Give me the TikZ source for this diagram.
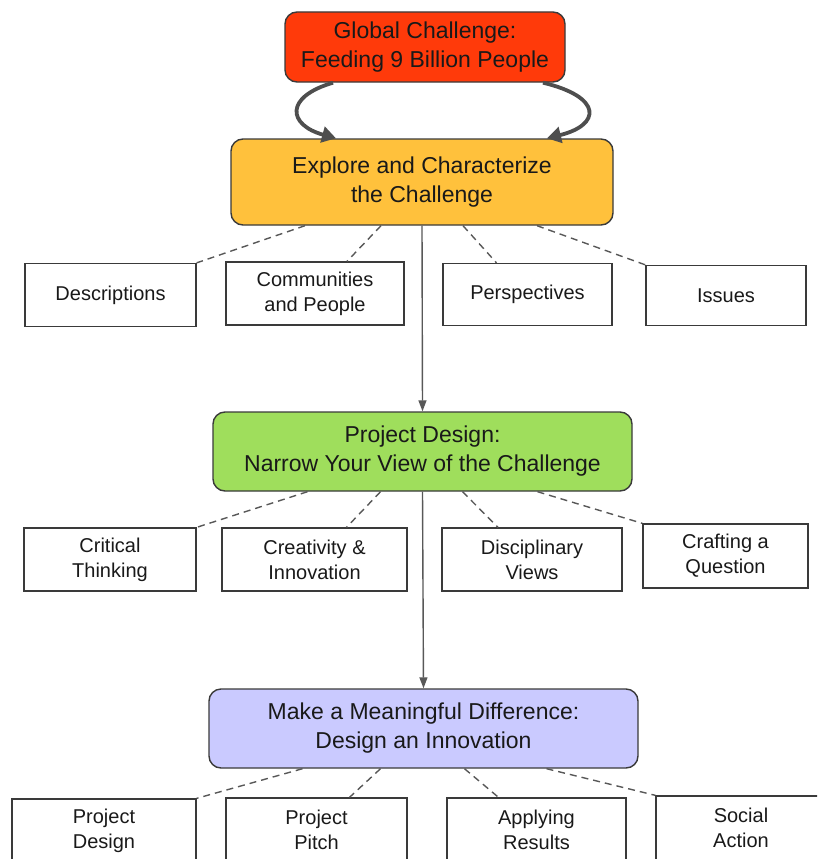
\documentclass[tikz,border=0pt]{standalone}
\usepackage{fontspec}
\setmainfont{Liberation Sans}
\usetikzlibrary{arrows.meta}
\definecolor{redc}{HTML}{FF3A0A}
\definecolor{orangec}{HTML}{FFC13C}
\definecolor{greenc}{HTML}{9FDE5C}
\definecolor{bluec}{HTML}{CACAFF}
\definecolor{edge}{HTML}{3A3A3A}
\begin{document}
\begin{tikzpicture}[x=1pt, y=-1pt,
  stage/.style={draw=edge, line width=1.4pt, rounded corners=12pt, align=center,
    text=black!90, font=\fontsize{23}{29}\selectfont, inner sep=0pt},
  box/.style={draw=edge, line width=1.3pt, align=center, text=black!90,
    font=\fontsize{20}{25}\selectfont, inner sep=0pt},
  link/.style={draw=edge!85, dash pattern=on 7pt off 5pt, line width=1.4pt},
  down/.style={draw=edge!85, line width=1.4pt, -{Triangle[length=11pt, width=8pt]}},
  loop/.style={draw=edge!90, line width=3.8pt, -{Triangle[length=14pt, width=16pt]}}]
\useasboundingbox (0,0) rectangle (817,859);
\clip (0,0) rectangle (817,859);
\node[stage, fill=redc, minimum width=280pt, minimum height=70pt] (global) at (425,47)
  {Global Challenge:\\Feeding 9 Billion People};
\node[stage, fill=orangec, minimum width=382pt, minimum height=86pt] (explore) at (422,182)
  {Explore and Characterize\\the Challenge};
\node[stage, fill=greenc, minimum width=419pt, minimum height=79pt] (design) at (422.5,451.5)
  {Project Design:\\Narrow Your View of the Challenge};
\node[stage, fill=bluec, minimum width=429pt, minimum height=79pt] (impact) at (423.5,728.5)
  {Make a Meaningful Difference:\\Design an Innovation};
\node[box, minimum width=171pt, minimum height=63pt] (desc) at (110.5,295) {Descriptions};
\node[box, minimum width=178pt, minimum height=63pt] (comm) at (315,293.5) {Communities\\and People};
\node[box, minimum width=169pt, minimum height=62pt] (persp) at (527.5,294.5) {Perspectives};
\node[box, minimum width=160pt, minimum height=60pt] (issues) at (726,295.5) {Issues};
\node[box, minimum width=172pt, minimum height=63pt] (crit) at (110,559.5) {Critical\\Thinking};
\node[box, minimum width=185pt, minimum height=63pt] (creat) at (314.5,559.5) {Creativity \&\\Innovation};
\node[box, minimum width=180pt, minimum height=63pt] (disc) at (532,559.5) {Disciplinary\\Views};
\node[box, minimum width=165pt, minimum height=64pt] (craft) at (725.5,556) {Crafting a\\Question};
\node[box, minimum width=184pt, minimum height=64pt] (pdes) at (104,831) {Project\\Design};
\node[box, minimum width=181pt, minimum height=64pt] (pitch) at (316.5,830) {Project\\Pitch};
\node[box, minimum width=179pt, minimum height=64pt] (apply) at (536.5,830) {Applying\\Results};
\node[box, minimum width=170pt, minimum height=64pt] (social) at (741,828) {Social\\Action};
\draw[loop] ([xshift=-92pt]global.south) .. controls (284,97) and (288,125) .. ([xshift=-86pt]explore.north);
\draw[loop] ([xshift=118pt]global.south) .. controls (603,97) and (601,125) .. ([xshift=125pt]explore.north);
\draw[down] (explore.south) -- (design.north);
\draw[down] (design.south) -- (impact.north);
\draw[link] ([xshift=-117pt]explore.south) -- (desc.north east);
\draw[link] ([xshift=-41pt]explore.south) -- ([xshift=32pt]comm.north);
\draw[link] ([xshift=41pt]explore.south) -- ([xshift=-31pt]persp.north);
\draw[link] ([xshift=115pt]explore.south) -- (issues.north west);
\draw[link] ([xshift=-115pt]design.south) -- (crit.north east);
\draw[link] ([xshift=-42pt]design.south) -- ([xshift=32pt]creat.north);
\draw[link] ([xshift=40pt]design.south) -- ([xshift=-34pt]disc.north);
\draw[link] ([xshift=115pt]design.south) -- (craft.north west);
\draw[link] ([xshift=-121pt]impact.south) -- (pdes.north east);
\draw[link] ([xshift=-43pt]impact.south) -- ([xshift=33pt]pitch.north);
\draw[link] ([xshift=41pt]impact.south) -- ([xshift=-38pt]apply.north);
\draw[link] ([xshift=123pt]impact.south) -- (social.north west);
\end{tikzpicture}
\end{document}
